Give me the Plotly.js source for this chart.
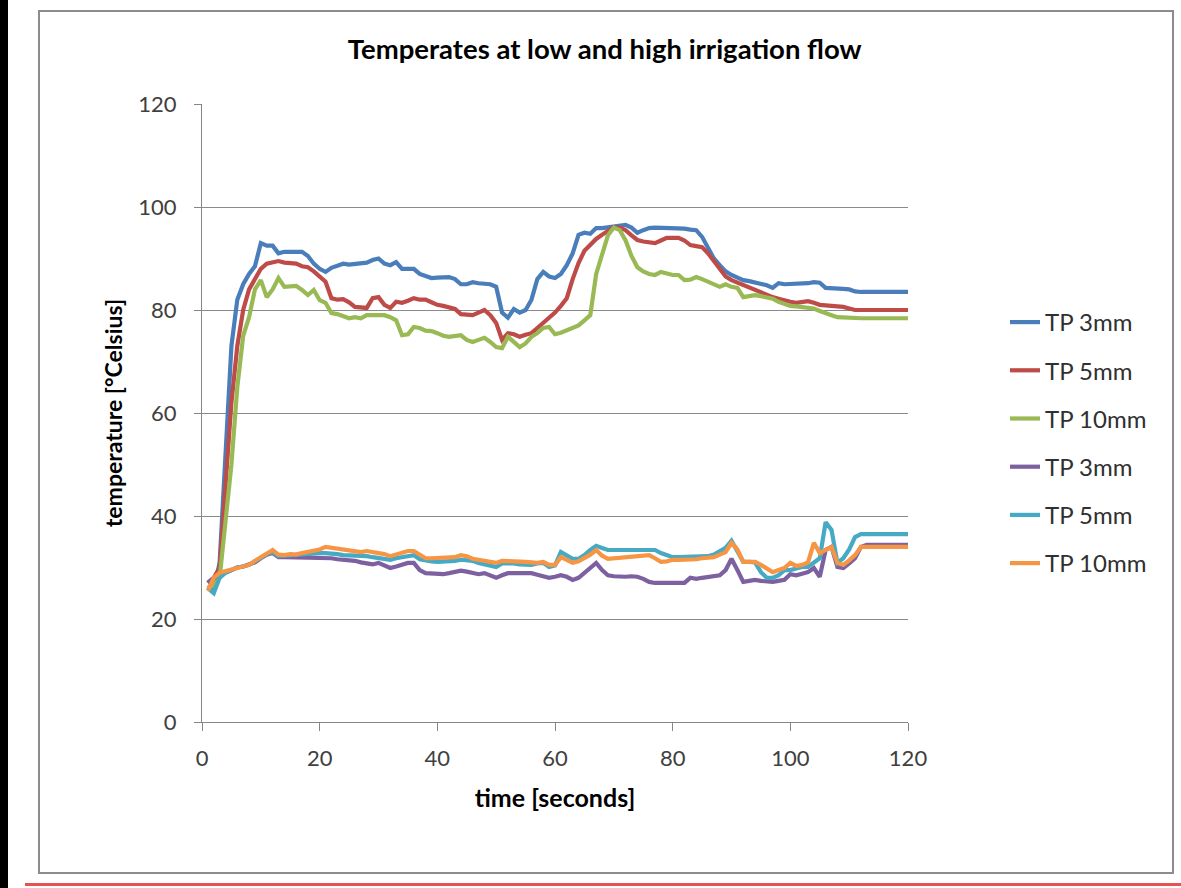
<!DOCTYPE html>
<html>
<head>
<meta charset="utf-8">
<script src="https://cdn.plot.ly/plotly-3.0.1.min.js"></script>
<style>
  html, body { margin:0; padding:0; background:#ffffff; }
  #wrap { position:relative; width:1181px; height:888px; overflow:hidden; background:#fff; }
  #strip { position:absolute; left:0; top:0; width:8px; height:888px; background:#000; }
  #frame { position:absolute; left:38px; top:10px; width:1132px; height:860px; border:2px solid #8c8c8c; box-sizing:content-box; background:#fff; }
  #redline { position:absolute; left:25px; top:883px; width:1156px; height:3px; background:#e55353; }
  #chart { position:absolute; left:0; top:0; width:1181px; height:888px; }
</style>
</head>
<body>
<div id="wrap">
  <div id="strip"></div>
  <div id="frame"></div>
  <div id="redline"></div>
  <div id="chart"></div>
</div>
<script>
// time in seconds
const time = Array.from({length:120}, (_, i) => i + 1);

const seriesNames = ["TP 3mm", "TP 5mm", "TP 10mm", "TP 3mm", "TP 5mm", "TP 10mm"];

// upper group
const tp3High = [
26.5,25.5,31,52,73,82,85,87,88.5,93,
92.5,92.5,91,91.3,91.3,91.3,91.3,90.5,89,88,
87.4,88.2,88.7,89,88.8,89,89.2,89.2,89.7,90,
89,88.7,89.3,88,88,88,87,86.5,86.2,86.3,
86.4,86.4,86,85,85,85.4,85.2,85,85,84.5,
79.5,78.5,80.2,79.5,80,82,86,87.4,86.5,86.2,
87,88.7,91,94.6,95,94.8,95.9,95.9,96,96.2,
96.3,96.5,96,95,95.5,95.9,96,96,96,96,
96,95.8,95.6,95.5,94.2,92,90,88.7,87.5,86.8,
86.2,85.8,85.6,85.4,85,84.8,84.3,85.2,85,85,
85,85,85.2,85.4,85.3,84.3,84.3,84.2,84.1,84,
83.6,83.5,83.5,83.5,83.5,83.5,83.5,83.5,83.5,83.5];

const tp5High = [
27,28,30,45,62,73,80,84,86,88,
89,89.3,89.5,89.2,89.1,89,88.5,88.3,87.5,86.5,
85.5,82.3,82,82.1,81.5,80.6,80.5,80.4,82.3,82.5,
81,80.4,81.6,81.4,81.8,82.3,82,82,81.5,81,
80.8,80.6,80.2,79.2,79,79,79.5,80,79,77.5,
74.2,75.5,75.3,74.8,75.2,75.5,76.5,77.5,78.6,79.5,
80.8,82.3,86,89.1,91.5,92.6,93.8,94.6,95.4,96.1,
96,95.5,94.5,93.6,93.3,93.2,93,93.5,94,94,
94,93.5,92.6,92.4,92.2,91,89.5,88,86.5,85.8,
85.3,84.9,84.3,83.9,83.3,82.8,82.5,82.2,81.8,81.6,
81.4,81.5,81.7,81.4,81,80.9,80.8,80.8,80.6,80.3,
80,80,80,80,80,80,80,80,80,80];

const tp10High = [
26,26.5,28,40,50,65,75,78.6,84,85.8,
82.5,84,86.2,84.5,84.5,84.7,83.9,82.9,83.9,81.9,
81.4,79.4,79.2,78.8,78.4,78.6,78.4,79,79,79,
79,78.6,78,75.1,75.3,76.7,76.5,76,75.9,75.5,
75,74.8,74.9,75.1,74.2,73.8,74.2,74.6,73.8,72.8,
72.6,74.8,73.8,72.8,73.5,74.8,75.5,76.5,76.7,75.3,
75.6,76.1,76.6,77,78,79,87,91,94.5,96,
95.5,93.5,90.5,88.3,87.5,87,86.8,87.4,87,86.8,
86.8,85.8,85.9,86.4,86,85.5,84.9,84.5,85,84.5,
84.3,82.5,82.7,82.9,82.7,82.5,82.2,81.6,81.2,80.8,
80.7,80.6,80.6,80.3,79.8,79.5,79,78.6,78.5,78.4,
78.4,78.4,78.4,78.4,78.4,78.4,78.4,78.4,78.4,78.4];

// lower group
const tp3Low = [
27,28,28.5,29,29.5,30,30.2,30.5,31,31.8,
32.5,32.8,32,32,32,31.8,31.8,31.8,31.8,31.8,
31.8,31.8,31.6,31.5,31.5,31.3,31,30.8,30.6,30.9,
30.5,29.9,30.2,30.6,30.9,30.9,29.5,28.9,28.8,28.8,
28.7,28.9,29.2,29.4,29.2,28.9,28.7,28.9,28.5,28,
28.5,28.9,28.9,28.9,28.8,28.9,28.6,28.2,28,28.2,
28.5,28.2,27.6,28,28.9,30,30.9,29.5,28.5,28.3,
28.2,28.2,28.3,28.2,27.8,27.2,27,27,27,27,
27,27,28,27.8,28,28.2,28.2,28.5,29.5,31.7,
29.5,27.2,27.4,27.6,27.4,27.2,27.2,27.4,27.6,28.7,
28.5,28.8,29.1,29.9,28.2,33.4,34,30.1,29.9,30.8,
31.8,34,34.4,34.4,34.4,34.4,34.4,34.4,34.4,34.4];

const tp5Low = [
26,25,28,29,29.5,30,30.2,30.5,31.2,32,
32.6,33,32.2,32.3,32.4,32.4,32.5,32.6,32.7,32.8,
32.8,32.8,32.6,32.4,32.4,32.3,32.2,32.2,32,31.9,
31.8,31.5,31.8,32,32.4,32.4,31.6,31.3,31.2,31.1,
31.1,31.2,31.3,31.5,31.5,31.3,30.9,30.7,30.5,30.1,
30.8,30.9,30.8,30.6,30.6,30.5,30.8,30.9,30.1,30.4,
33,32.4,31.7,31.7,32.4,33.4,34.2,33.8,33.4,33.4,
33.4,33.4,33.4,33.4,33.4,33.4,33.4,32.8,32.5,32,
32,32,32,32,32,32.2,32.5,33.2,33.8,35.2,
33,31.1,31.1,31,29.1,28,28,28.5,29.5,29.5,
29.8,30.1,30.1,30.9,31.8,38.8,37.3,30.9,31.8,33.5,
35.9,36.5,36.5,36.5,36.5,36.5,36.5,36.5,36.5,36.5];

const tp10Low = [
25.5,28,29,29.3,29.7,30,30.3,30.5,31.3,32,
32.8,33.4,32.5,32.4,32.6,32.5,32.8,33,33.3,33.5,
34,33.8,33.6,33.4,33.2,33.1,33,33.2,33,33,
32.6,32.2,32.5,32.8,33.2,33.2,32.4,31.8,31.8,31.8,
31.8,31.9,32,32.4,32.2,31.7,31.5,31.3,31.1,30.9,
31.3,31.3,31.2,31.1,31.1,31,30.9,31.1,30.5,30.5,
32,31.5,30.9,31.2,31.8,32.5,33.4,32.3,31.7,31.8,
31.9,32,32,32,32.2,32.4,31.8,31.1,31.2,31.5,
31.5,31.5,31.5,31.6,31.8,32,32,32.5,33,34.8,
33.5,31.1,31.1,31.1,30.5,29.9,29.1,29.5,29.9,30.9,
30.3,30.5,31,34.8,32.8,33.4,34,30.9,30.5,31.4,
32.4,34,34,34,34,34,34,34,34,34];

const seriesValues = [tp3High, tp5High, tp10High, tp3Low, tp5Low, tp10Low];
const colors = ["#4a7ebb", "#be4b48", "#98b954", "#7d60a0", "#46aac5", "#f69544"];

const FONT = "Lato, 'Open Sans', sans-serif";

const traces = seriesValues.map((vals, i) => ({
  x: time,
  y: vals,
  type: "scatter",
  mode: "lines",
  name: seriesNames[i],
  legendgroup: "g" + i,
  line: { color: colors[i], width: 4.2 },
  hoverinfo: "x+y+name"
}));

const layout = {
  width: 1181,
  height: 888,
  paper_bgcolor: "rgba(0,0,0,0)",
  plot_bgcolor: "rgba(0,0,0,0)",
  margin: { l: 202, r: 273, t: 104, b: 166, pad: 0 },
  font: { family: FONT, color: "#404040", size: 21 },
  title: {
    text: "<b>Temperates at low and high irrigation flow</b>",
    font: { family: FONT, size: 27.5, color: "#000000" },
    xref: "container", x: 0.512, xanchor: "center",
    yref: "container", y: 0.944, yanchor: "middle"
  },
  xaxis: {
    range: [0, 120],
    tickvals: [0, 20, 40, 60, 80, 100, 120],
    showgrid: false,
    zeroline: false,
    showline: true,
    linecolor: "#868686",
    linewidth: 1,
    ticks: "outside",
    ticklen: 8,
    tickcolor: "#868686",
    ticklabelstandoff: 9,
    tickfont: { family: FONT, size: 22, color: "#404040" },
    title: { text: "<b>time [seconds]</b>", font: { family: FONT, size: 25, color: "#000000" }, standoff: 19 },
    automargin: false,
    fixedrange: true
  },
  yaxis: {
    range: [0, 120],
    tickvals: [0, 20, 40, 60, 80, 100, 120],
    showgrid: true,
    gridcolor: "#8a8a8a",
    gridwidth: 1,
    zeroline: false,
    showline: true,
    linecolor: "#868686",
    linewidth: 1,
    ticks: "outside",
    ticklen: 7,
    tickcolor: "#868686",
    ticklabelstandoff: 13,
    tickfont: { family: FONT, size: 22, color: "#404040" },
    title: { text: "<b>temperature [°Celsius]</b>", font: { family: FONT, size: 23, color: "#000000" }, standoff: 9 },
    automargin: false,
    fixedrange: true
  },
  showlegend: true,
  legend: {
    x: (1005 - 202) / 706, xanchor: "left",
    y: 1 - (300 - 104) / 618, yanchor: "top",
    bgcolor: "rgba(0,0,0,0)",
    borderwidth: 0,
    font: { family: FONT, size: 24, color: "#303030" },
    tracegroupgap: 14,
    traceorder: "grouped"
  }
};

Plotly.newPlot("chart", traces, layout, { staticPlot: true, displayModeBar: false });
</script>
</body>
</html>
